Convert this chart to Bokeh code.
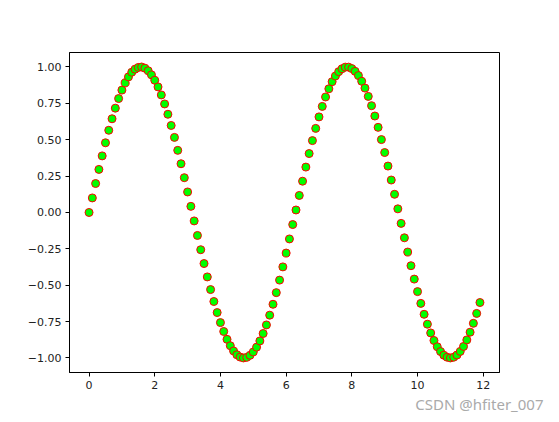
from bokeh.plotting import figure
from bokeh.models import FixedTicker, Range1d, Title
from bokeh.embed import file_html
from bokeh.resources import INLINE

x_vals = [0.0, 0.1, 0.2, 0.3, 0.4, 0.5, 0.6, 0.7, 0.8, 0.9,
          1.0, 1.1, 1.2, 1.3, 1.4, 1.5, 1.6, 1.7, 1.8, 1.9,
          2.0, 2.1, 2.2, 2.3, 2.4, 2.5, 2.6, 2.7, 2.8, 2.9,
          3.0, 3.1, 3.2, 3.3, 3.4, 3.5, 3.6, 3.7, 3.8, 3.9,
          4.0, 4.1, 4.2, 4.3, 4.4, 4.5, 4.6, 4.7, 4.8, 4.9,
          5.0, 5.1, 5.2, 5.3, 5.4, 5.5, 5.6, 5.7, 5.8, 5.9,
          6.0, 6.1, 6.2, 6.3, 6.4, 6.5, 6.6, 6.7, 6.8, 6.9,
          7.0, 7.1, 7.2, 7.3, 7.4, 7.5, 7.6, 7.7, 7.8, 7.9,
          8.0, 8.1, 8.2, 8.3, 8.4, 8.5, 8.6, 8.7, 8.8, 8.9,
          9.0, 9.1, 9.2, 9.3, 9.4, 9.5, 9.6, 9.7, 9.8, 9.9,
          10.0, 10.1, 10.2, 10.3, 10.4, 10.5, 10.6, 10.7, 10.8, 10.9,
          11.0, 11.1, 11.2, 11.3, 11.4, 11.5, 11.6, 11.7, 11.8, 11.9]

y_vals = [0.000, 0.100, 0.199, 0.296, 0.389, 0.479, 0.565, 0.644, 0.717, 0.783,
          0.841, 0.891, 0.932, 0.964, 0.985, 0.997, 1.000, 0.992, 0.974, 0.946,
          0.909, 0.863, 0.808, 0.746, 0.675, 0.598, 0.516, 0.427, 0.335, 0.239,
          0.141, 0.042, -0.058, -0.158, -0.256, -0.351, -0.443, -0.530, -0.612, -0.688,
          -0.757, -0.818, -0.872, -0.916, -0.952, -0.978, -0.994, -1.000, -0.996, -0.982,
          -0.959, -0.926, -0.883, -0.832, -0.773, -0.706, -0.631, -0.551, -0.465, -0.374,
          -0.279, -0.182, -0.083, 0.017, 0.117, 0.215, 0.312, 0.405, 0.494, 0.578,
          0.657, 0.729, 0.794, 0.850, 0.899, 0.938, 0.968, 0.988, 0.999, 0.999,
          0.989, 0.970, 0.941, 0.902, 0.855, 0.798, 0.734, 0.663, 0.585, 0.501,
          0.412, 0.319, 0.223, 0.125, 0.025, -0.075, -0.174, -0.272, -0.366, -0.458,
          -0.544, -0.625, -0.700, -0.768, -0.828, -0.880, -0.923, -0.956, -0.981, -0.995,
          -1.000, -0.995, -0.980, -0.955, -0.921, -0.876, -0.823, -0.762, -0.694, -0.619]

x_ticks = [0, 2, 4, 6, 8, 10, 12]
y_ticks = [-1.0, -0.75, -0.5, -0.25, 0.0, 0.25, 0.5, 0.75, 1.0]
y_tick_labels = ["\u22121.00", "\u22120.75", "\u22120.50", "\u22120.25", "0.00",
                 "0.25", "0.50", "0.75", "1.00"]

p = figure(width=553, height=417, output_backend="svg", toolbar_location=None,
           min_border_left=69, min_border_right=54, min_border_top=52, min_border_bottom=45)
p.x_range = Range1d(-0.595, 12.495)
p.y_range = Range1d(-1.1, 1.0996)

p.scatter(x_vals, y_vals, size=8, fill_color="#00ff00", line_color="#ff0000", line_width=1)

p.grid.visible = False
p.outline_line_color = "black"
p.outline_line_width = 1
p.outline_line_alpha = 1

for ax in (p.xaxis[0], p.yaxis[0]):
    ax.axis_line_color = "black"
    ax.major_tick_line_color = "black"
    ax.major_tick_out = 4
    ax.major_tick_in = 0
    ax.minor_tick_line_color = None
    ax.major_label_text_font = "DejaVu Sans"
    ax.major_label_text_font_size = "11px"
    ax.major_label_text_color = "#222222"
    ax.major_label_standoff = 4

p.xaxis[0].ticker = FixedTicker(ticks=x_ticks)
p.yaxis[0].ticker = FixedTicker(ticks=y_ticks)
p.yaxis[0].major_label_overrides = {t: l for t, l in zip(y_ticks, y_tick_labels)}

wm = Title(text="CSDN @hfiter_007", align="right", offset=-44,
           text_font="Noto Sans", text_font_size="15px", text_font_style="normal",
           text_color="#aaaaaa", standoff=0)
p.add_layout(wm, "below")

open("out.html", "w").write(file_html(p, INLINE))
